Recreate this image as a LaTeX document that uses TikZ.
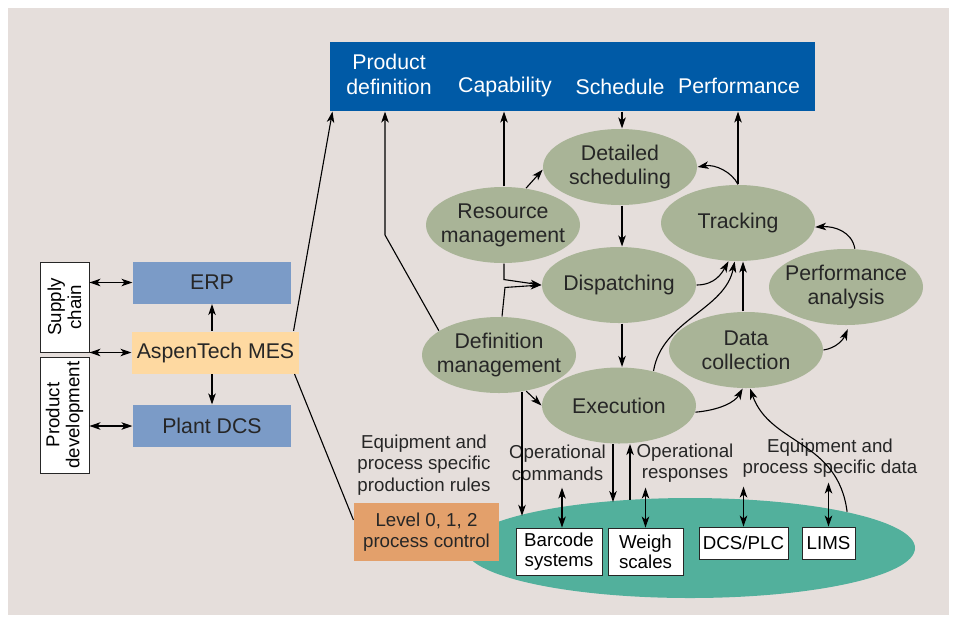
\documentclass[tikz,border=0pt]{standalone}
\usepackage{fontspec}
\setmainfont{Liberation Sans}
\usetikzlibrary{arrows.meta,shapes.geometric,positioning,calc}
\definecolor{bgcol}{HTML}{E5DEDB}
\definecolor{barblue}{HTML}{005AA6}
\definecolor{sysblue}{HTML}{7B9BC7}
\definecolor{mesorange}{HTML}{FED9A1}
\definecolor{actgreen}{HTML}{A9B497}
\definecolor{floorteal}{HTML}{52B09C}
\definecolor{ctrlorange}{HTML}{E3A06B}
\definecolor{inkgray}{HTML}{262626}
\tikzset{>={Stealth[length=11pt,width=7.5pt,inset=3pt]}}

\begin{document}
\begin{tikzpicture}[x=1pt, y=-1pt, line width=1.1pt,
  activity/.style={ellipse, fill=actgreen, minimum width=154pt, minimum height=76pt, inner xsep=-12pt, inner ysep=0pt, align=center, text=inkgray, font=\fontsize{21.3}{24}\selectfont},
  sysbox/.style={fill=sysblue, minimum width=158pt, minimum height=42pt, inner sep=0pt, text=inkgray, font=\fontsize{21.3}{24}\selectfont},
  devbox/.style={draw=inkgray, fill=white, line width=0.9pt, inner sep=1pt, align=center, font=\fontsize{18.7}{20}\selectfont},
  sidebox/.style={draw=inkgray, fill=white, line width=0.9pt, rotate=90, align=center, minimum height=49pt, inner sep=1pt, font=\fontsize{18.7}{20}\selectfont},
  note/.style={align=center, text=inkgray, font=\fontsize{18.7}{21.5}\selectfont},
  barlabel/.style={text=white, align=center, font=\fontsize{21.3}{24.5}\selectfont}]
		\useasboundingbox (0,0) rectangle (957,622);
		\fill[bgcol] (8,8) rectangle (949,615);
		
		% information objects
		\node[fill=barblue, minimum width=485pt, minimum height=69pt, inner sep=0pt] (topbar) at (572.5,76.5) {};
		\node[barlabel] (proddef) at (389,74.5) {Product\\definition};
		\node[barlabel] (capab)   at (505,87)   {Capability};
		\node[barlabel] (sched)   at (620,87)   {Schedule};
		\node[barlabel] (perfbar) at (739,86)   {Performance};
		
		% business level
		\node[sysbox] (erp) at (212,282.5) {ERP};
		\node[sysbox, fill=mesorange, minimum width=167pt] (mes) at (215.5,352.5) {AspenTech MES};
		\node[sysbox] (plantdcs) at (212,426) {Plant DCS};
		\node[sidebox, minimum width=90pt]  (supply)  at (64.5,307) {Supply\\chain};
		\node[sidebox, minimum width=116pt] (proddev) at (64.5,415) {Product\\development};
		
		% MES activities
		\node[activity] (detsched)  at (620,167)   {Detailed\\scheduling};
		\node[activity] (resource)  at (503,225)   {Resource\\management};
		\node[activity] (dispatch)  at (619,285)   {Dispatching};
		\node[activity] (defmgmt)   at (499,355)   {Definition\\management};
		\node[activity] (execution) at (619,405.5) {Execution};
		\node[activity] (tracking)  at (738,223)   {Tracking};
		\node[activity] (perfanal)  at (846,287)   {Performance\\analysis};
		\node[activity] (datacoll)  at (746,350)   {Data\\collection};
		
		% plant floor
		\node[ellipse, fill=floorteal, minimum width=450pt, minimum height=100pt, inner sep=0pt] (floor) at (690,548) {};
		\node[note, fill=ctrlorange, minimum width=145pt, minimum height=58pt, inner sep=0pt] (level) at (426.5,532) {Level 0, 1, 2\\process control};
		\node[devbox, minimum width=86pt, minimum height=47pt] (barcode) at (559,551.5)   {Barcode\\systems};
		\node[devbox, minimum width=75pt, minimum height=47pt] (weigh)   at (645.5,551.5) {Weigh\\scales};
		\node[devbox, minimum width=89pt, minimum height=32pt] (dcsplc)  at (743.5,543)   {DCS/PLC};
		\node[devbox, minimum width=53pt, minimum height=32pt] (lims)    at (828.5,543)   {LIMS};
		
		\node[note] (rules)  at (424,465)   {Equipment and\\process specific\\production rules};
		\node[note] (opcmd)  at (557.5,463) {Operational\\commands};
		\node[note] (opresp) at (685,463)   {Operational\\responses};
		\node[note] (eqdata) at (830,458)   {Equipment and\\process specific data};
		
		% left side links
		\draw[<->] (erp.west) -- (erp.west -| supply.south);
		\draw[<->] (mes.west) -- (mes.west -| supply.south);
		\draw[<->] (plantdcs.west) -- (plantdcs.west -| proddev.south);
		\draw[->] (mes.north -| erp.south) -- (erp.south);
		\draw[->] (mes.south -| plantdcs.north) -- (plantdcs.north);
		\draw[->] ([xshift=-6pt]mes.north east) -- ([xshift=3pt]topbar.south west);
		\draw ([xshift=-5pt]mes.south east) -- ([yshift=12pt]level.west);
		
		% to and from the information objects
		\coordinate (pdbend) at (385,235);
		\draw[->] (defmgmt.158) -- (pdbend) -- (pdbend |- topbar.south);
		\draw[->] ([xshift=1pt]resource.north) -- ([xshift=1pt]resource.north |- topbar.south);
		\draw[->] ([xshift=2pt]detsched.north |- topbar.south) -- ([xshift=2pt]detsched.north);
		\draw[->] (tracking.north) -- (tracking.north |- topbar.south);
		
		% activity flow
		\draw[->] (resource.58) -- (detsched.182);
		\draw[->] ([xshift=2pt]detsched.south) -- ([xshift=3pt]dispatch.north);
		\draw[->] ([xshift=3pt]dispatch.south) -- ([xshift=3pt]execution.north);
		\draw[->] ([xshift=1pt]resource.south) -- ++(0,16) -- (dispatch.west);
		\draw[->] ([xshift=3pt]defmgmt.north) -- ++(3,-29) -- (dispatch.west);
		\draw[->] (defmgmt.-53) -- (execution.west);
		\draw[->] (dispatch.east) .. controls (715,285) and (722,273) .. (tracking.-104);
		\draw[->] (execution.45) .. controls (662,320) and (725,310) .. (tracking.-95);
		\draw[->] ([xshift=-3pt]datacoll.north) -- ([xshift=-3pt]datacoll.north |- tracking.south);
		\draw[->] (execution.-5) .. controls (720,410) and (735,402) .. (datacoll.-95);
		\draw[->, shorten >=4pt] (datacoll.east) .. controls (836,348) and (843,340) .. (perfanal.-85);
		\draw[->] (perfanal.77) .. controls (852,232) and (835,226) .. (tracking.-3);
		\draw[->] (tracking.north) .. controls (732,172) and (715,164) .. (detsched.east);
		
		% plant floor links
		\draw[->] (defmgmt.-58) -- ++(0,124);
		\draw[->] ([xshift=-6pt]execution.south) -- ++(0,58);
		\draw[<-] ([xshift=11pt]execution.south) -- ++(0,56);
		\draw[->] (floor.13) .. controls (838,440) and (770,445) .. (datacoll.-84);
		\draw[<->] ([xshift=3pt]barcode.north) -- ++(0,-40);
		\draw[<->] (weigh.north) -- ++(0,-40);
		\draw[<->] (dcsplc.north) -- ++(0,-40);
		\draw[<->] (lims.north) -- ++(0,-44);
	\end{tikzpicture}
\end{document}
